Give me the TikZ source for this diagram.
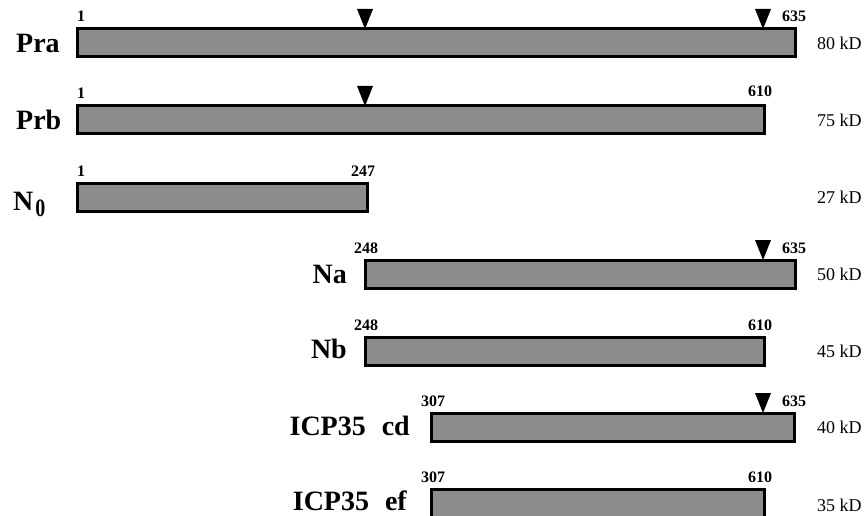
\documentclass[tikz,border=0pt]{standalone}
\usepackage{fontspec}
\setmainfont{Liberation Serif}
\usetikzlibrary{calc}

\tikzset{
  bar/.style={draw=black, line width=3pt, fill=black!45, anchor=north west,
    minimum height=28pt, inner sep=0pt, outer sep=0pt},
  resnum/.style={font=\fontsize{16}{16}\selectfont\bfseries, inner sep=0pt},
  mass/.style={font=\fontsize{18}{18}\selectfont, inner sep=0pt, anchor=west},
  protname/.style={font=\fontsize{28}{28}\selectfont\bfseries, inner sep=0pt},
  cleave/.pic={\fill[black] (0,0) -- (-8,-20) -- (8,-20) -- cycle;}
}

\begin{document}
\begin{tikzpicture}[x=1pt, y=-1pt]
  \clip (0,0) rectangle (867,516);
  \fill[white] (0,0) rectangle (867,516);

  % column for the molecular masses
  \coordinate (kdx) at (817,0);

  % protein bars
  \node[bar, minimum width=718pt] (pra) at (77,29)    {};
  \node[bar, minimum width=687pt] (prb) at (77,106)   {};
  \node[bar, minimum width=290pt] (no)  at (77,183)   {};
  \node[bar, minimum width=430pt] (na)  at (365,260)  {};
  \node[bar, minimum width=399pt] (nb)  at (365,337)  {};
  \node[bar, minimum width=363pt] (cd)  at (431,413)  {};
  \node[bar, minimum width=333pt] (ef)  at (431,489)  {};

  % cleavage sites
  \pic at (365,29)  {cleave};
  \pic at (763,29)  {cleave};
  \pic at (365,106) {cleave};
  \pic at (763,260) {cleave};
  \pic at (763,413) {cleave};

  % names
  \node[protname, anchor=base west] (pra-n) at (16,53)  {Pra};
  \node[protname, anchor=base west] (prb-n) at (16,129) {Prb};
  \node[protname, anchor=base west] (no-n)  at (13,210)
    {N\kern2pt\raisebox{-6pt}{\fontsize{25}{25}\selectfont\scalebox{0.8}[1]{0}}};
  \node[protname, anchor=base east] (na-n)  at (347,283) {Na};
  \node[protname, anchor=base east] (nb-n)  at (347,358) {Nb};
  \node[protname, anchor=base east] (cd-n)  at (410,435) {ICP35\hspace{0.32em} cd};
  \node[protname, anchor=base east] (ef-n)  at (407,510) {ICP35\hspace{0.32em} ef};

  % residue numbers
  \node[resnum, anchor=base west] at (77,22)  {1};
  \node[resnum, anchor=base west] at (782,22) {635};
  \node[resnum, anchor=base west] at (77,99)  {1};
  \node[resnum, anchor=base]      at (760,97) {610};
  \node[resnum, anchor=base west] at (77,176) {1};
  \node[resnum, anchor=base]      at (363,176) {247};
  \node[resnum, anchor=base]      at (366,253) {248};
  \node[resnum, anchor=base west] at (782,253) {635};
  \node[resnum, anchor=base]      at (366,330) {248};
  \node[resnum, anchor=base]      at (760,330) {610};
  \node[resnum, anchor=base]      at (433,406) {307};
  \node[resnum, anchor=base west] at (782,406) {635};
  \node[resnum, anchor=base]      at (433,482) {307};
  \node[resnum, anchor=base]      at (760,482) {610};

  % molecular masses
  \node[mass] at (pra.center -| kdx) {80 kD};
  \node[mass] at (prb.center -| kdx) {75 kD};
  \node[mass] at (no.center  -| kdx) {27 kD};
  \node[mass] at (na.center  -| kdx) {50 kD};
  \node[mass] at (nb.center  -| kdx) {45 kD};
  \node[mass] at (cd.center  -| kdx) {40 kD};
  \node[mass] at ($(ef.north -| kdx)+(0,16)$) {35 kD};
\end{tikzpicture}
\end{document}
